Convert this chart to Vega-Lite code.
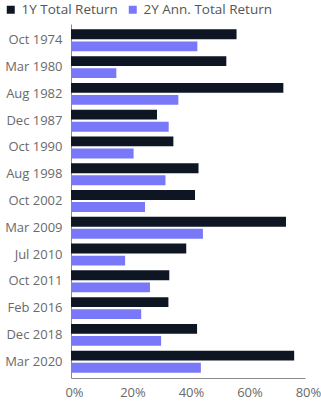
{
  "$schema": "https://vega.github.io/schema/vega-lite/v6.json",
  "width": 234,
  "height": 354,
  "autosize": {"type": "none"},
  "padding": {"left": 71, "top": 24, "right": 16, "bottom": 23},
  "background": "white",
  "config": {
    "view": {"stroke": null},
    "font": "Open Sans"
  },
  "data": {
    "values": [
      {"date": "Oct 1974", "series": "1Y Total Return", "value": 0.566},
      {"date": "Oct 1974", "series": "2Y Ann. Total Return", "value": 0.432},
      {"date": "Mar 1980", "series": "1Y Total Return", "value": 0.531},
      {"date": "Mar 1980", "series": "2Y Ann. Total Return", "value": 0.155},
      {"date": "Aug 1982", "series": "1Y Total Return", "value": 0.726},
      {"date": "Aug 1982", "series": "2Y Ann. Total Return", "value": 0.367},
      {"date": "Dec 1987", "series": "1Y Total Return", "value": 0.294},
      {"date": "Dec 1987", "series": "2Y Ann. Total Return", "value": 0.334},
      {"date": "Oct 1990", "series": "1Y Total Return", "value": 0.350},
      {"date": "Oct 1990", "series": "2Y Ann. Total Return", "value": 0.214},
      {"date": "Aug 1998", "series": "1Y Total Return", "value": 0.436},
      {"date": "Aug 1998", "series": "2Y Ann. Total Return", "value": 0.323},
      {"date": "Oct 2002", "series": "1Y Total Return", "value": 0.424},
      {"date": "Oct 2002", "series": "2Y Ann. Total Return", "value": 0.253},
      {"date": "Mar 2009", "series": "1Y Total Return", "value": 0.735},
      {"date": "Mar 2009", "series": "2Y Ann. Total Return", "value": 0.451},
      {"date": "Jul 2010", "series": "1Y Total Return", "value": 0.394},
      {"date": "Jul 2010", "series": "2Y Ann. Total Return", "value": 0.185},
      {"date": "Oct 2011", "series": "1Y Total Return", "value": 0.336},
      {"date": "Oct 2011", "series": "2Y Ann. Total Return", "value": 0.270},
      {"date": "Feb 2016", "series": "1Y Total Return", "value": 0.333},
      {"date": "Feb 2016", "series": "2Y Ann. Total Return", "value": 0.240},
      {"date": "Dec 2018", "series": "1Y Total Return", "value": 0.431},
      {"date": "Dec 2018", "series": "2Y Ann. Total Return", "value": 0.308},
      {"date": "Mar 2020", "series": "1Y Total Return", "value": 0.763},
      {"date": "Mar 2020", "series": "2Y Ann. Total Return", "value": 0.444}
    ]
  },
  "mark": {"type": "bar"},
  "encoding": {
    "y": {
      "field": "date",
      "type": "nominal",
      "sort": null,
      "scale": {"paddingInner": 0.18, "paddingOuter": 0.2},
      "axis": {
        "title": null,
        "ticks": false,
        "domain": true,
        "domainColor": "#8a8a8a",
        "labelColor": "#6a6a6a",
        "labelFontSize": 13,
        "labelPadding": 9,
        "grid": false
      }
    },
    "yOffset": {
      "field": "series",
      "type": "nominal",
      "scale": {"paddingInner": 0.18, "paddingOuter": 0}
    },
    "x": {
      "field": "value",
      "type": "quantitative",
      "scale": {"domain": [0, 0.8], "nice": false},
      "axis": {
        "title": null,
        "format": ".0%",
        "values": [0, 0.2, 0.4, 0.6, 0.8],
        "ticks": false,
        "grid": false,
        "domainColor": "#8a8a8a",
        "labelColor": "#6a6a6a",
        "labelFontSize": 13,
        "labelPadding": 8,
        "labelOffset": 3,
        "labelOverlap": false,
        "labelFlush": false
      }
    },
    "color": {
      "field": "series",
      "type": "nominal",
      "scale": {
        "domain": ["1Y Total Return", "2Y Ann. Total Return"],
        "range": ["#0e1624", "#7878f8"]
      },
      "legend": {
        "title": null,
        "orient": "none",
        "legendX": -67,
        "legendY": -21,
        "direction": "horizontal",
        "gridAlign": "none",
        "symbolType": "square",
        "symbolSize": 64,
        "symbolStrokeWidth": 0,
        "labelFontSize": 13.5,
        "labelColor": "#555555",
        "labelOffset": 4,
        "columnPadding": 8
      }
    }
  }
}
